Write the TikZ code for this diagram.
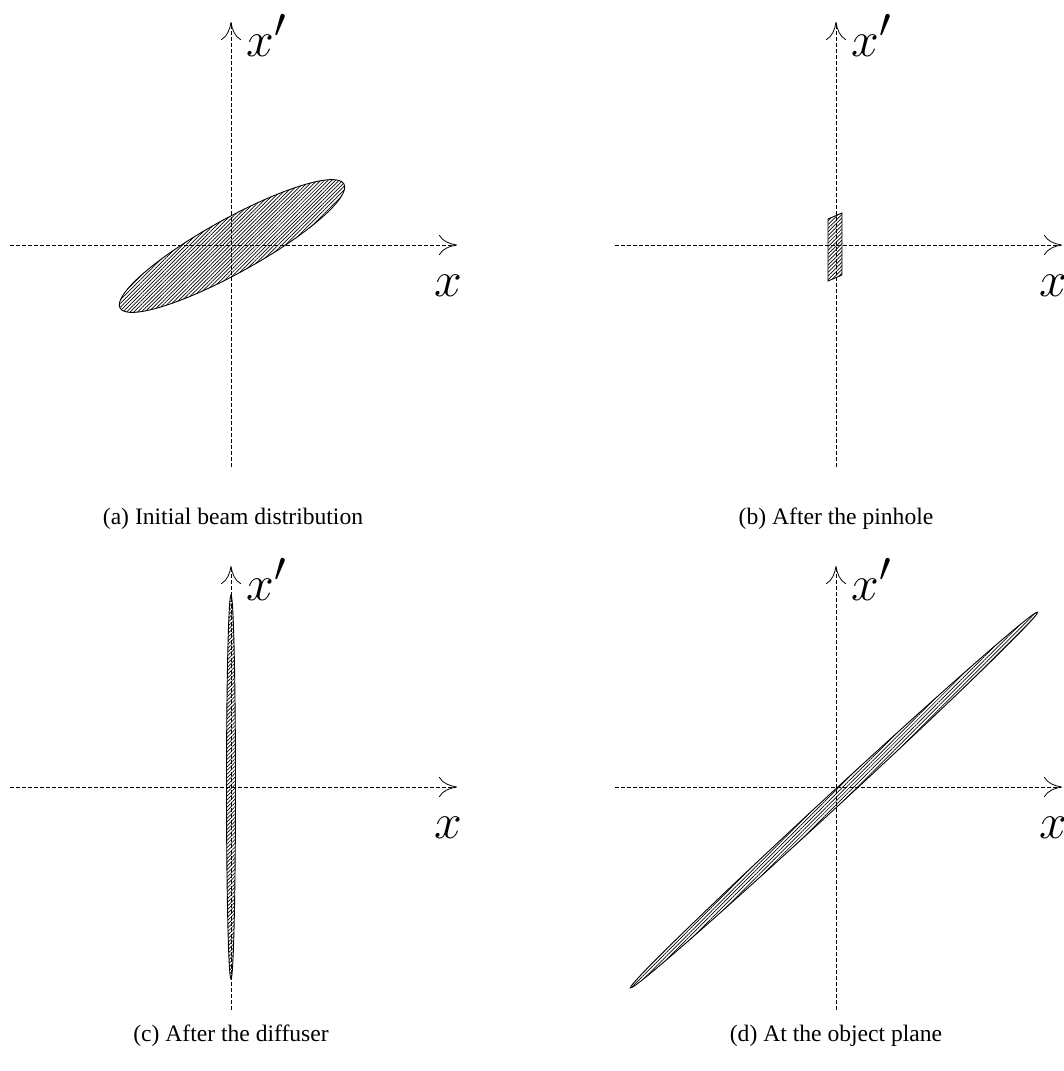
\documentclass[tikz,border=0pt]{standalone}
\usepackage{fontspec}
\setmainfont{Liberation Serif}
\usetikzlibrary{arrows.meta,patterns.meta}
\begin{document}
\begin{tikzpicture}[x=0.5pt,y=-0.5pt,
  axis/.style={line width=0.4pt,dash pattern=on 2pt off 1pt,
    -{Computer Modern Rightarrow[length=9pt,width=10pt,line width=0.4pt]}},
  beam/.style={draw,line width=0.45pt,
    pattern={Lines[angle=45,distance=1.3pt,line width=0.35pt]}},
  biglabel/.style={font=\fontsize{29}{31}\selectfont,inner sep=0pt},
  caption/.style={font=\fontsize{11.8}{14}\selectfont,inner sep=0pt}]
\useasboundingbox (0,0) rectangle (1064,1071);
% ---------- panel (a)
\coordinate (aL) at (10,245); \coordinate (aR) at (457,245);
\coordinate (aB) at (231,467); \coordinate (aT) at (231,22);
\draw[beam,shift={(232,246)},rotate=29] (0,0) ellipse [x radius=128,y radius=27];
\draw[axis] (aL) -- (aR);
\draw[axis] (aB) -- (aT);
\node[biglabel,anchor=base west] (axp) at (246,56) {$x'$};
\node[biglabel,anchor=base] (ax) at (448,296) {$x$};
\node[caption] (acap) at (233,519) {(a) Initial beam distribution};
% ---------- panel (b)
\coordinate (bL) at (615,245); \coordinate (bR) at (1062,245);
\coordinate (bB) at (836,467); \coordinate (bT) at (836,22);
\draw[beam] (828,219) -- (842,213) -- (842,275) -- (828,281) -- cycle;
\draw[axis] (bL) -- (bR);
\draw[axis] (bB) -- (bT);
\node[biglabel,anchor=base west] (bxp) at (851,56) {$x'$};
\node[biglabel,anchor=base] (bx) at (1053,296) {$x$};
\node[caption] (bcap) at (836,519) {(b) After the pinhole};
% ---------- panel (c)
\coordinate (cL) at (10,787); \coordinate (cR) at (457,787);
\coordinate (cB) at (231,1010); \coordinate (cT) at (231,566);
\draw[beam] (231,787) ellipse [x radius=4.5,y radius=192];
\draw[axis] (cL) -- (cR);
\draw[axis] (cB) -- (cT);
\node[biglabel,anchor=base west] (cxp) at (246,600) {$x'$};
\node[biglabel,anchor=base] (cx) at (448,838) {$x$};
\node[caption] (ccap) at (231,1036) {(c) After the diffuser};
% ---------- panel (d)
\coordinate (dL) at (615,787); \coordinate (dR) at (1062,787);
\coordinate (dB) at (836,1010); \coordinate (dT) at (836,566);
\draw[beam,shift={(834,800)},rotate=42.7] (0,0) ellipse [x radius=277,y radius=7];
\draw[axis] (dL) -- (dR);
\draw[axis] (dB) -- (dT);
\node[biglabel,anchor=base west] (dxp) at (851,600) {$x'$};
\node[biglabel,anchor=base] (dx) at (1053,838) {$x$};
\node[caption] (dcap) at (836,1036) {(d) At the object plane};
\end{tikzpicture}
\end{document}
